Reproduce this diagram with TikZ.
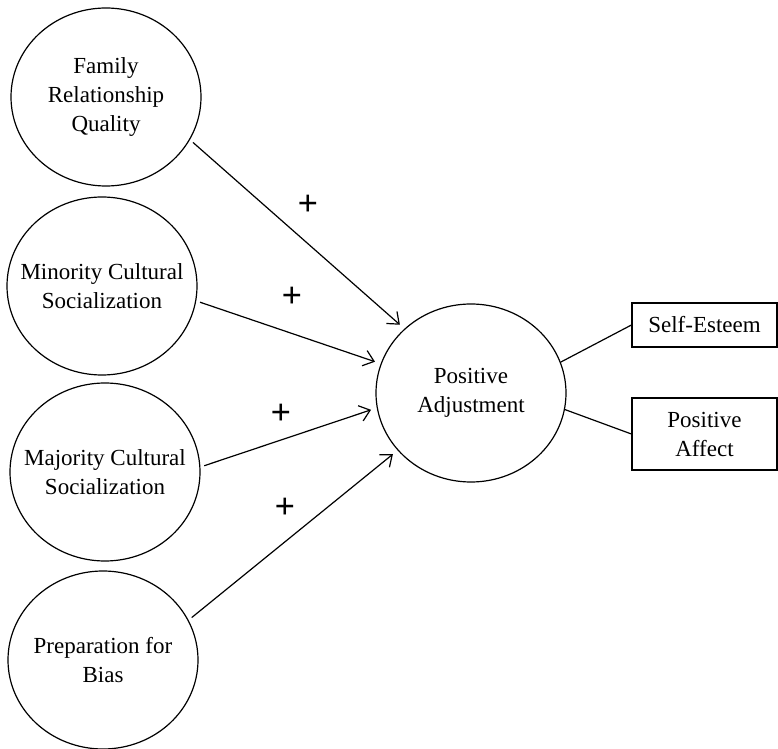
\documentclass[tikz,border=0pt]{standalone}
\usepackage{fontspec}
\setmainfont{Liberation Serif}
\usetikzlibrary{shapes.geometric,arrows.meta}

\begin{document}
\begin{tikzpicture}[x=0.5pt,y=-0.5pt,
    construct/.style={draw,ellipse,line width=0.6pt,minimum width=95pt,minimum height=89pt,
      inner xsep=-12pt,inner ysep=0pt,align=center,font=\fontsize{11.5}{14.5}\selectfont},
    indicator/.style={draw,rectangle,line width=0.6pt,minimum width=72.5pt,inner sep=0pt,
      align=center,font=\fontsize{11.5}{14.5}\selectfont},
    effect/.style={line width=0.6pt,-{Straight Barb[length=5pt,width=8pt]},shorten >=3pt,shorten <=2pt},
    loading/.style={line width=0.6pt},
    sign/.style={font=\fontsize{18}{18}\selectfont\bfseries}]
  \useasboundingbox (0,0) rectangle (778,749);
  % predictors
  \node[construct] (family) at (106,97) {Family\\Relationship\\Quality};
  \node[construct] (minority) at (102,286) {Minority Cultural\\Socialization};
  \node[construct] (majority) at (105,472) {Majority Cultural\\Socialization};
  \node[construct] (bias) at (103,660) {Preparation for\\Bias};
  % outcome and its indicators
  \node[construct] (adjust) at (471,393) {Positive\\Adjustment};
  \node[indicator,minimum height=22pt] (esteem) at (704.5,325) {Self-Esteem};
  \node[indicator,minimum height=36pt] (affect) at (704.5,434) {Positive\\Affect};
  % paths
  \draw[effect] (family.-27) -- (adjust.136);
  \draw[effect] (minority.-9) -- (adjust.162);
  \draw[effect] (majority.3) -- (adjust.-171);
  \draw[effect] (bias.25) -- (adjust.-142);
  \draw[loading] (adjust.19) -- (esteem.west);
  \draw[loading] (adjust.-10) -- (affect.west);
  % signs
  \node[sign] (s1) at (308,205) {+};
  \node[sign] (s2) at (292,297) {+};
  \node[sign] (s3) at (281,414) {+};
  \node[sign] (s4) at (285,508) {+};
\end{tikzpicture}
\end{document}
